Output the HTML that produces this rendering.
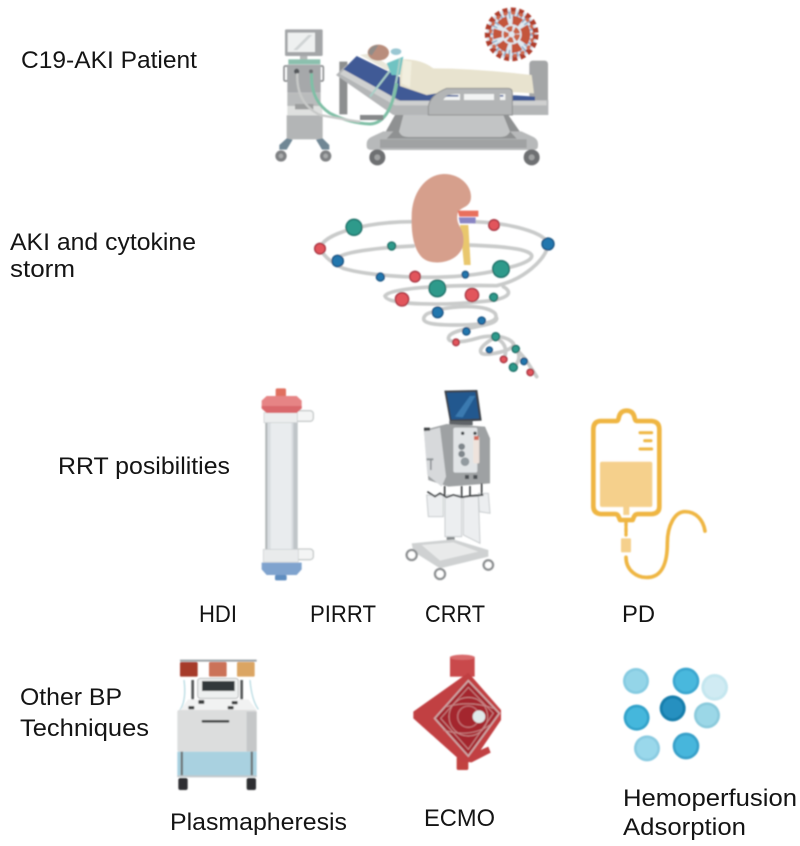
<!DOCTYPE html>
<html><head><meta charset="utf-8"><title>C19-AKI diagram</title>
<style>html,body{margin:0;padding:0;background:#fff}svg{display:block}text{font-family:"Liberation Sans",sans-serif;font-size:24px;fill:#141414}</style></head>
<body>
<svg width="800" height="846" viewBox="0 0 800 846" xmlns="http://www.w3.org/2000/svg">
<defs><filter id="b" x="-5%" y="-5%" width="110%" height="110%"><feGaussianBlur stdDeviation="0.7"/></filter></defs>
<rect width="800" height="846" fill="#fff"/>
<g filter="url(#b)">

<!-- patient -->
<g transform="translate(260,0) scale(.33333)">
  <!-- ventilator -->
  <rect x="75" y="88" width="113" height="80" rx="4" fill="#a3a5a7"/>
  <rect x="83" y="98" width="82" height="58" fill="#eef0f0"/>
  <path d="M100 150L145 105h12L112 150z" fill="#cfd3d4"/>
  <rect x="120" y="168" width="22" height="12" fill="#b5b8b8"/>
  <rect x="85" y="178" width="96" height="15" fill="#8cc0ae"/>
  <rect x="72" y="198" width="12" height="45" rx="4" fill="none" stroke="#8f9193" stroke-width="5"/>
  <rect x="178" y="198" width="12" height="45" rx="4" fill="none" stroke="#8f9193" stroke-width="5"/>
  <rect x="82" y="194" width="100" height="84" fill="#a6a8aa"/>
  <circle cx="110" cy="214" r="8" fill="#55595c"/><circle cx="153" cy="214" r="6" fill="#6c7072"/>
  <rect x="82" y="278" width="100" height="40" fill="#b9bbbc"/>
  <rect x="82" y="318" width="105" height="28" fill="#dfe0df"/>
  <rect x="105" y="312" width="55" height="16" fill="#9b9d9d"/>
  <rect x="80" y="346" width="108" height="72" fill="#b3b5b6"/>
  <path d="M80 415L58 435v14h22l18-30zM188 415l20 20v14h-22l-18-30z" fill="#6f8795"/>
  <circle cx="63" cy="468" r="17" fill="#7f8183"/><circle cx="63" cy="468" r="7" fill="#a9abac"/>
  <circle cx="197" cy="468" r="17" fill="#7f8183"/><circle cx="197" cy="468" r="7" fill="#a9abac"/>
  <!-- bed head/foot -->
  <path d="M238 185h24v158h-24z" fill="#8d8f90"/>
  <rect x="808" y="182" width="56" height="160" rx="10" fill="#a4a6a7"/>
  <!-- under bed -->
  <path d="M405 345h340l50 72H365z" fill="#8f9192"/>
  <path d="M430 345h300l20 50q-8 16-28 16H445q-22 0-28-16z" fill="#c2c4c5"/>
  <path d="M320 430q0-14 20-22l30-14h30l-20 22h390l-20-22h34l30 14q20 8 20 22v8q0 12-16 12H336q-16 0-16-12z" fill="#b7b9ba"/>
  <rect x="360" y="418" width="440" height="26" fill="#a0a2a3"/>
  <circle cx="352" cy="472" r="24" fill="#6e7072"/><circle cx="352" cy="472" r="9" fill="#a0a2a3"/>
  <circle cx="815" cy="472" r="24" fill="#6e7072"/><circle cx="815" cy="472" r="9" fill="#a0a2a3"/>
  <!-- frame -->
  <path d="M228 225L262 192L420 300H865V345H400z" fill="#b4b6b7"/>
  <path d="M240 222L262 200L412 302H860v14H405z" fill="#cfd0d0"/>
  <!-- mattress -->
  <path d="M250 208L290 168L500 270L825 290V302H420z" fill="#3f5a96"/>
  <path d="M300 165L330 160L400 205L380 210z" fill="#e9e7da"/>
  <!-- blanket -->
  <path d="M418 178Q480 175 520 205Q640 205 815 225L822 280L600 268L500 285L420 258z" fill="#e8e3cf"/>
  <path d="M430 180L455 185L450 262L425 250z" fill="#f2efdf"/>
  <!-- head -->
  <ellipse cx="355" cy="158" rx="32" ry="24" fill="#b98d7c"/>
  <path d="M325 160q5-24 30-25l-8 14-12 18z" fill="#918c88"/>
  <path d="M380 190L430 170L420 225L395 225z" fill="#6fc3c2"/>
  <ellipse cx="408" cy="155" rx="16" ry="10" fill="#9ac7d3"/>
  <path d="M420 175Q405 280 385 335M390 212L330 290" fill="none" stroke="#a9cfc7" stroke-width="6"/>
  <!-- side rail -->
  <path d="M505 345V320Q510 285 560 265H745Q757 265 757 280V345Z" fill="#b3b5b6" stroke="#8f9192" stroke-width="3"/>
  <path d="M550 300Q560 282 590 282H600V300zM612 282H702V300H612zM720 282h16v18h-16z" fill="#f3f4f4"/>
  <path d="M565 285h30v5h-40zM720 285h10v5h-10z" fill="#4c649b"/>
  <!-- tubes -->
  <path d="M155 220Q150 300 210 340Q270 370 330 372Q390 370 410 250" fill="none" stroke="#7fbfa6" stroke-width="9"/>
  <path d="M112 220Q108 310 180 345Q260 360 300 365" fill="none" stroke="#c7c9c8" stroke-width="7"/>
  <path d="M300 345h70v15h-70z" fill="#868889"/>
  <!-- virus -->
  <circle cx="755" cy="103" r="76" fill="#dfe9f1"/>
  <circle cx="755" cy="103" r="58" fill="none" stroke="#8db1cd" stroke-width="22" stroke-dasharray="5 7"/>
  <circle cx="755" cy="103" r="72" fill="none" stroke="#b03c2c" stroke-width="17" stroke-dasharray="15 9"/>
  <circle cx="755" cy="103" r="64" fill="none" stroke="#cf6a4e" stroke-width="10" stroke-dasharray="12 12" stroke-dashoffset="12"/>
  <circle cx="755" cy="103" r="43" fill="none" stroke="#c4553a" stroke-width="26" stroke-dasharray="26 15"/>
  <circle cx="755" cy="103" r="17" fill="none" stroke="#cb6344" stroke-width="16" stroke-dasharray="16 6"/>
</g>

<!-- kidney + storm -->
<g transform="translate(300,170) scale(.33333)">
  <g fill="none" stroke="#c9cbca" stroke-width="11" stroke-linecap="round">
    <path d="M60 235C70 190 200 155 340 155M520 155C620 158 740 185 745 225C735 270 670 330 590 347C480 345 270 350 255 378C260 408 450 405 540 395C620 390 645 370 610 350"/>
    <path d="M60 235C75 265 100 280 130 295C230 325 480 335 605 297C670 285 710 265 690 250C660 230 560 228 505 225M340 228C250 232 110 245 105 272"/>
    <path d="M410 420C480 405 560 405 585 430C600 455 560 465 470 465C400 465 365 460 372 442C378 428 395 425 415 425M590 445C590 470 480 470 450 495C430 520 480 520 530 505C565 495 620 495 640 520C650 540 560 560 545 550C530 535 570 510 590 500"/>
    <path d="M590 505C610 515 625 535 612 565M640 525C660 545 665 570 640 592M650 540C675 560 690 590 710 620"/>
  </g>
  <path d="M480 165H505L512 285H492z" fill="#e9c76d"/>
  <path d="M430 12C480 10 520 50 512 90C505 115 480 110 473 130C465 170 495 170 490 220C485 265 430 285 390 275C345 265 333 200 335 140C335 70 375 15 430 12z" fill="#d69f8c"/>
  <path d="M473 122H535V140H478z" fill="#e8705d"/>
  <path d="M476 142H527V160H480z" fill="#8a85c4"/>
  <g stroke="#176a62" stroke-width="4" fill="#2f9a8b">
    <circle cx="162" cy="172" r="24"/><circle cx="275" cy="228" r="12"/><circle cx="603" cy="297" r="25"/><circle cx="412" cy="355" r="25"/><circle cx="581" cy="382" r="12"/><circle cx="587" cy="500" r="12"/><circle cx="647" cy="537" r="11"/><circle cx="640" cy="592" r="12"/>
  </g>
  <g stroke="#a22f3c" stroke-width="4" fill="#e2545c">
    <circle cx="60" cy="236" r="16"/><circle cx="582" cy="165" r="16"/><circle cx="345" cy="320" r="16"/><circle cx="306" cy="388" r="20"/><circle cx="516" cy="375" r="20"/><circle cx="468" cy="517" r="10"/><circle cx="611" cy="568" r="10"/><circle cx="691" cy="607" r="10"/>
  </g>
  <g stroke="#14507f" stroke-width="4" fill="#2277ae">
    <circle cx="744" cy="222" r="18"/><circle cx="113" cy="273" r="17"/><circle cx="241" cy="321" r="12"/><circle cx="496" cy="314" r="10"/><circle cx="413" cy="427" r="16"/><circle cx="545" cy="452" r="11"/><circle cx="499" cy="484" r="11"/><circle cx="568" cy="540" r="9"/><circle cx="672" cy="574" r="10"/>
  </g>
</g>

<!-- dialyzer + CRRT -->
<g transform="translate(240,380) scale(.33333)">
  <rect x="76" y="125" width="97" height="385" fill="#d8dde0"/>
  <rect x="92" y="125" width="62" height="385" fill="#e9ecee"/>
  <rect x="76" y="125" width="6" height="385" fill="#aeb3b5"/>
  <rect x="160" y="125" width="13" height="385" fill="#bfc5c8"/>
  <rect x="165" y="92" width="55" height="32" rx="10" fill="#f4f5f5" stroke="#c6caca" stroke-width="4"/>
  <rect x="165" y="507" width="55" height="32" rx="10" fill="#f4f5f5" stroke="#c6caca" stroke-width="4"/>
  <rect x="72" y="98" width="100" height="30" fill="#eceeef" stroke="#c8cccd" stroke-width="2"/>
  <rect x="70" y="508" width="105" height="38" fill="#e9ebec" stroke="#c8cccd" stroke-width="2"/>
  <rect x="107" y="25" width="31" height="28" rx="5" fill="#e0705f"/>
  <path d="M80 48H170L185 62V85L170 99H80L65 85V62z" fill="#e68485"/>
  <path d="M65 78H185V85L170 99H80L65 85z" fill="#d9686c"/>
  <path d="M65 548H185V568L170 585H80L65 568z" fill="#7fa3ce"/>
  <rect x="105" y="585" width="35" height="16" rx="4" fill="#5e8dc0"/>
  <!-- CRRT -->
  <path d="M613 32L712 30L725 122L630 126z" fill="#3b4147"/>
  <path d="M620 38L706 36L718 116L634 119z" fill="#21588f"/>
  <path d="M645 110L690 48H706L668 112z" fill="#3a7ab0"/>
  <rect x="628" y="122" width="70" height="14" fill="#5f6467"/>
  <!-- pole/base -->
  <rect x="620" y="440" width="24" height="85" fill="#84888a"/>
  <path d="M515 490L640 478L745 510V530L600 565L520 515z" fill="#cfd1d2"/>
  <path d="M545 495L640 487L715 515L600 542z" fill="#e9eaea"/>
  <circle cx="515" cy="525" r="15" fill="#fff" stroke="#8b8e90" stroke-width="7"/>
  <circle cx="600" cy="582" r="15" fill="#fff" stroke="#8b8e90" stroke-width="7"/>
  <circle cx="745" cy="555" r="14" fill="#fff" stroke="#8b8e90" stroke-width="7"/>
  <!-- bags -->
  <path d="M560 345H610V410H565zM615 345H665V470H615zM670 350H715L720 490L670 465zM715 340H745L750 400L718 395z" fill="#eceef0" stroke="#c8ccce" stroke-width="3"/>
  <!-- body -->
  <path d="M552 150L620 132L735 140L750 175V310L625 320L565 300z" fill="#9ea1a3"/>
  <path d="M552 155L600 142L618 290L605 320L562 285z" fill="#d7d9db"/>
  <rect x="640" y="143" width="72" height="135" rx="6" fill="#e1e4e6"/>
  <rect x="700" y="170" width="18" height="80" rx="4" fill="#efe3dc"/>
  <rect x="702" y="168" width="14" height="12" fill="#d36c5b"/>
  <circle cx="665" cy="200" r="10" fill="#7f868b"/><circle cx="665" cy="222" r="10" fill="#7f868b"/><circle cx="675" cy="245" r="13" fill="#929a9f"/>
  <circle cx="668" cy="160" r="5" fill="#3b3f42"/><circle cx="705" cy="160" r="5" fill="#3b3f42"/>
  <rect x="560" y="235" width="20" height="6" fill="#8e9396"/><rect x="570" y="240" width="5" height="30" fill="#8e9396"/>
  <path d="M562 335L585 350L600 340L620 352L640 345L665 352L690 348L730 345M614 318V350M665 318V352M690 318V350M725 310V345" fill="none" stroke="#3d4143" stroke-width="5"/>
  <rect x="552" y="143" width="18" height="9" fill="#3d4143"/>
  <rect x="675" y="285" width="12" height="12" fill="#4b5053"/><rect x="700" y="285" width="12" height="12" fill="#4b5053"/>
</g>

<!-- PD -->
<g transform="translate(570,400) scale(.33333)" fill="none" stroke="#efb642" stroke-width="14" stroke-linecap="round" stroke-linejoin="round">
  <path d="M90 63H140Q145 63 147 50Q152 32 170 32Q188 32 193 50Q195 63 200 63H245Q268 65 268 88V320Q268 340 245 342H205Q195 342 192 350L188 360H150L146 350Q143 342 135 342H92Q70 340 70 318V88Q70 65 90 63z"/>
  <path d="M210 98H245M224 122H243M210 147H245" stroke-width="9"/>
  <rect x="90" y="185" width="157" height="136" rx="6" fill="#f5d08c" stroke="none"/>
  <path d="M160 320H178V345H160z" fill="#f5d08c" stroke="none"/>
  <path d="M168 366V405" stroke-width="10" stroke-dasharray="12 6"/>
  <rect x="153" y="415" width="30" height="42" rx="3" fill="#f5d08c" stroke="none"/>
  <path d="M168 472C168 510 200 535 235 532C275 530 292 490 292 430C292 375 315 335 345 335C378 335 400 360 405 393" stroke-width="11"/>
</g>

<!-- plasmapheresis + ECMO -->
<g transform="translate(160,650) scale(.33333)">
  <path d="M60 32H290" stroke="#9aa0a4" stroke-width="6"/>
  <path d="M98 90V180M245 90V180" stroke="#555859" stroke-width="8"/>
  <path d="M72 90Q80 150 60 180M270 90Q275 150 295 178" fill="none" stroke="#b8dbe3" stroke-width="4"/>
  <rect x="60" y="36" width="53" height="44" rx="4" fill="#a63a2c"/>
  <rect x="147" y="36" width="53" height="44" rx="4" fill="#cb7258"/>
  <rect x="231" y="36" width="53" height="44" rx="4" fill="#dba563"/>
  <rect x="113" y="85" width="122" height="60" rx="8" fill="#eef0f0" stroke="#b9bbbc" stroke-width="3"/>
  <rect x="126" y="93" width="98" height="30" fill="#33393b"/>
  <path d="M60 180L85 148H265L290 180z" fill="#f1f2f2"/>
  <rect x="115" y="150" width="18" height="12" rx="3" fill="#3c3f40"/><rect x="215" y="153" width="18" height="10" rx="3" fill="#3c3f40"/>
  <rect x="85" y="168" width="18" height="10" rx="3" fill="#3c3f40"/><rect x="203" y="168" width="18" height="10" rx="3" fill="#3c3f40"/>
  <rect x="155" y="183" width="35" height="10" fill="#7cb5c7"/>
  <rect x="52" y="180" width="238" height="125" rx="6" fill="#dcdddd"/>
  <rect x="260" y="185" width="30" height="120" fill="#c5c7c8"/>
  <rect x="125" y="210" width="83" height="8" rx="3" fill="#3d4041"/>
  <rect x="52" y="305" width="238" height="75" fill="#a9d1e0"/>
  <rect x="62" y="305" width="7" height="75" fill="#6d7374"/><rect x="272" y="305" width="7" height="75" fill="#6d7374"/>
  <rect x="52" y="376" width="238" height="6" fill="#c2c9cc"/>
  <rect x="55" y="384" width="28" height="36" rx="6" fill="#2d2f30"/>
  <rect x="260" y="384" width="28" height="36" rx="6" fill="#2d2f30"/>
  <!-- ECMO -->
  <rect x="870" y="20" width="74" height="60" fill="#c9484c"/>
  <ellipse cx="907" cy="22" rx="37" ry="8" fill="#d86a6c"/>
  <rect x="890" y="320" width="35" height="40" rx="5" fill="#c2423f"/>
  <path d="M925 68L1023 180V210L962 300L985 290L992 308L935 337L905 335L760 205V185z" fill="#c13f42"/>
  <path d="M925 92L1018 190L925 318L824 205z" fill="#a4262e"/>
  <path d="M925 92L1018 190L925 318L824 205z" fill="none" stroke="#cfa9a9" stroke-width="5"/>
  <path d="M925 112L1000 190L925 298L842 205z" fill="none" stroke="#c98a8a" stroke-width="3"/>
  <circle cx="925" cy="200" r="58" fill="none" stroke="#c98a8a" stroke-width="3"/>
  <circle cx="925" cy="200" r="32" fill="none" stroke="#c27276" stroke-width="4"/>
  <path d="M860 170Q930 150 1000 175M850 240Q930 265 990 225" fill="none" stroke="#c98a8a" stroke-width="3"/>
  <circle cx="957" cy="200" r="19" fill="#dfeaea"/>
</g>

<!-- beads -->
<g transform="translate(610,655) scale(.33333)">
  <circle cx="78" cy="78" r="39" fill="#85cbe1"/><circle cx="78" cy="78" r="31" fill="#94d5e8"/>
  <circle cx="228" cy="78" r="40" fill="#3aa6cf"/><circle cx="228" cy="78" r="32" fill="#48b8dd"/>
  <circle cx="314" cy="97" r="40" fill="#c4e6ef"/><circle cx="314" cy="97" r="31" fill="#d0ebf3"/>
  <circle cx="188" cy="160" r="39" fill="#177eac"/><circle cx="188" cy="160" r="30" fill="#2590c0"/>
  <circle cx="80" cy="188" r="39" fill="#33a2ca"/><circle cx="80" cy="188" r="31" fill="#44b7dc"/>
  <circle cx="291" cy="181" r="39" fill="#8bcadc"/><circle cx="291" cy="181" r="31" fill="#9bd7e7"/>
  <circle cx="111" cy="280" r="39" fill="#8acbe1"/><circle cx="111" cy="280" r="31" fill="#9ad8eb"/>
  <circle cx="228" cy="273" r="40" fill="#37a0c9"/><circle cx="228" cy="273" r="32" fill="#47b6dc"/>
</g>
</g>

<!-- labels -->
<text x="21" y="68" textLength="176" lengthAdjust="spacingAndGlyphs">C19-AKI Patient</text>
<text x="10" y="250" textLength="186" lengthAdjust="spacingAndGlyphs">AKI and cytokine</text>
<text x="10" y="277" textLength="65" lengthAdjust="spacingAndGlyphs">storm</text>
<text x="58" y="474" textLength="172" lengthAdjust="spacingAndGlyphs">RRT posibilities</text>
<text x="199" y="622" textLength="38" lengthAdjust="spacingAndGlyphs">HDI</text>
<text x="310" y="622" textLength="66" lengthAdjust="spacingAndGlyphs">PIRRT</text>
<text x="425" y="622" textLength="60" lengthAdjust="spacingAndGlyphs">CRRT</text>
<text x="622" y="622" textLength="33" lengthAdjust="spacingAndGlyphs">PD</text>
<text x="20" y="705" textLength="102" lengthAdjust="spacingAndGlyphs">Other BP</text>
<text x="20" y="736" textLength="129" lengthAdjust="spacingAndGlyphs">Techniques</text>
<text x="170" y="830" textLength="177" lengthAdjust="spacingAndGlyphs">Plasmapheresis</text>
<text x="424" y="826" textLength="71" lengthAdjust="spacingAndGlyphs">ECMO</text>
<text x="623" y="806" textLength="174" lengthAdjust="spacingAndGlyphs">Hemoperfusion</text>
<text x="623" y="835" textLength="123" lengthAdjust="spacingAndGlyphs">Adsorption</text>
</svg>
</body></html>
